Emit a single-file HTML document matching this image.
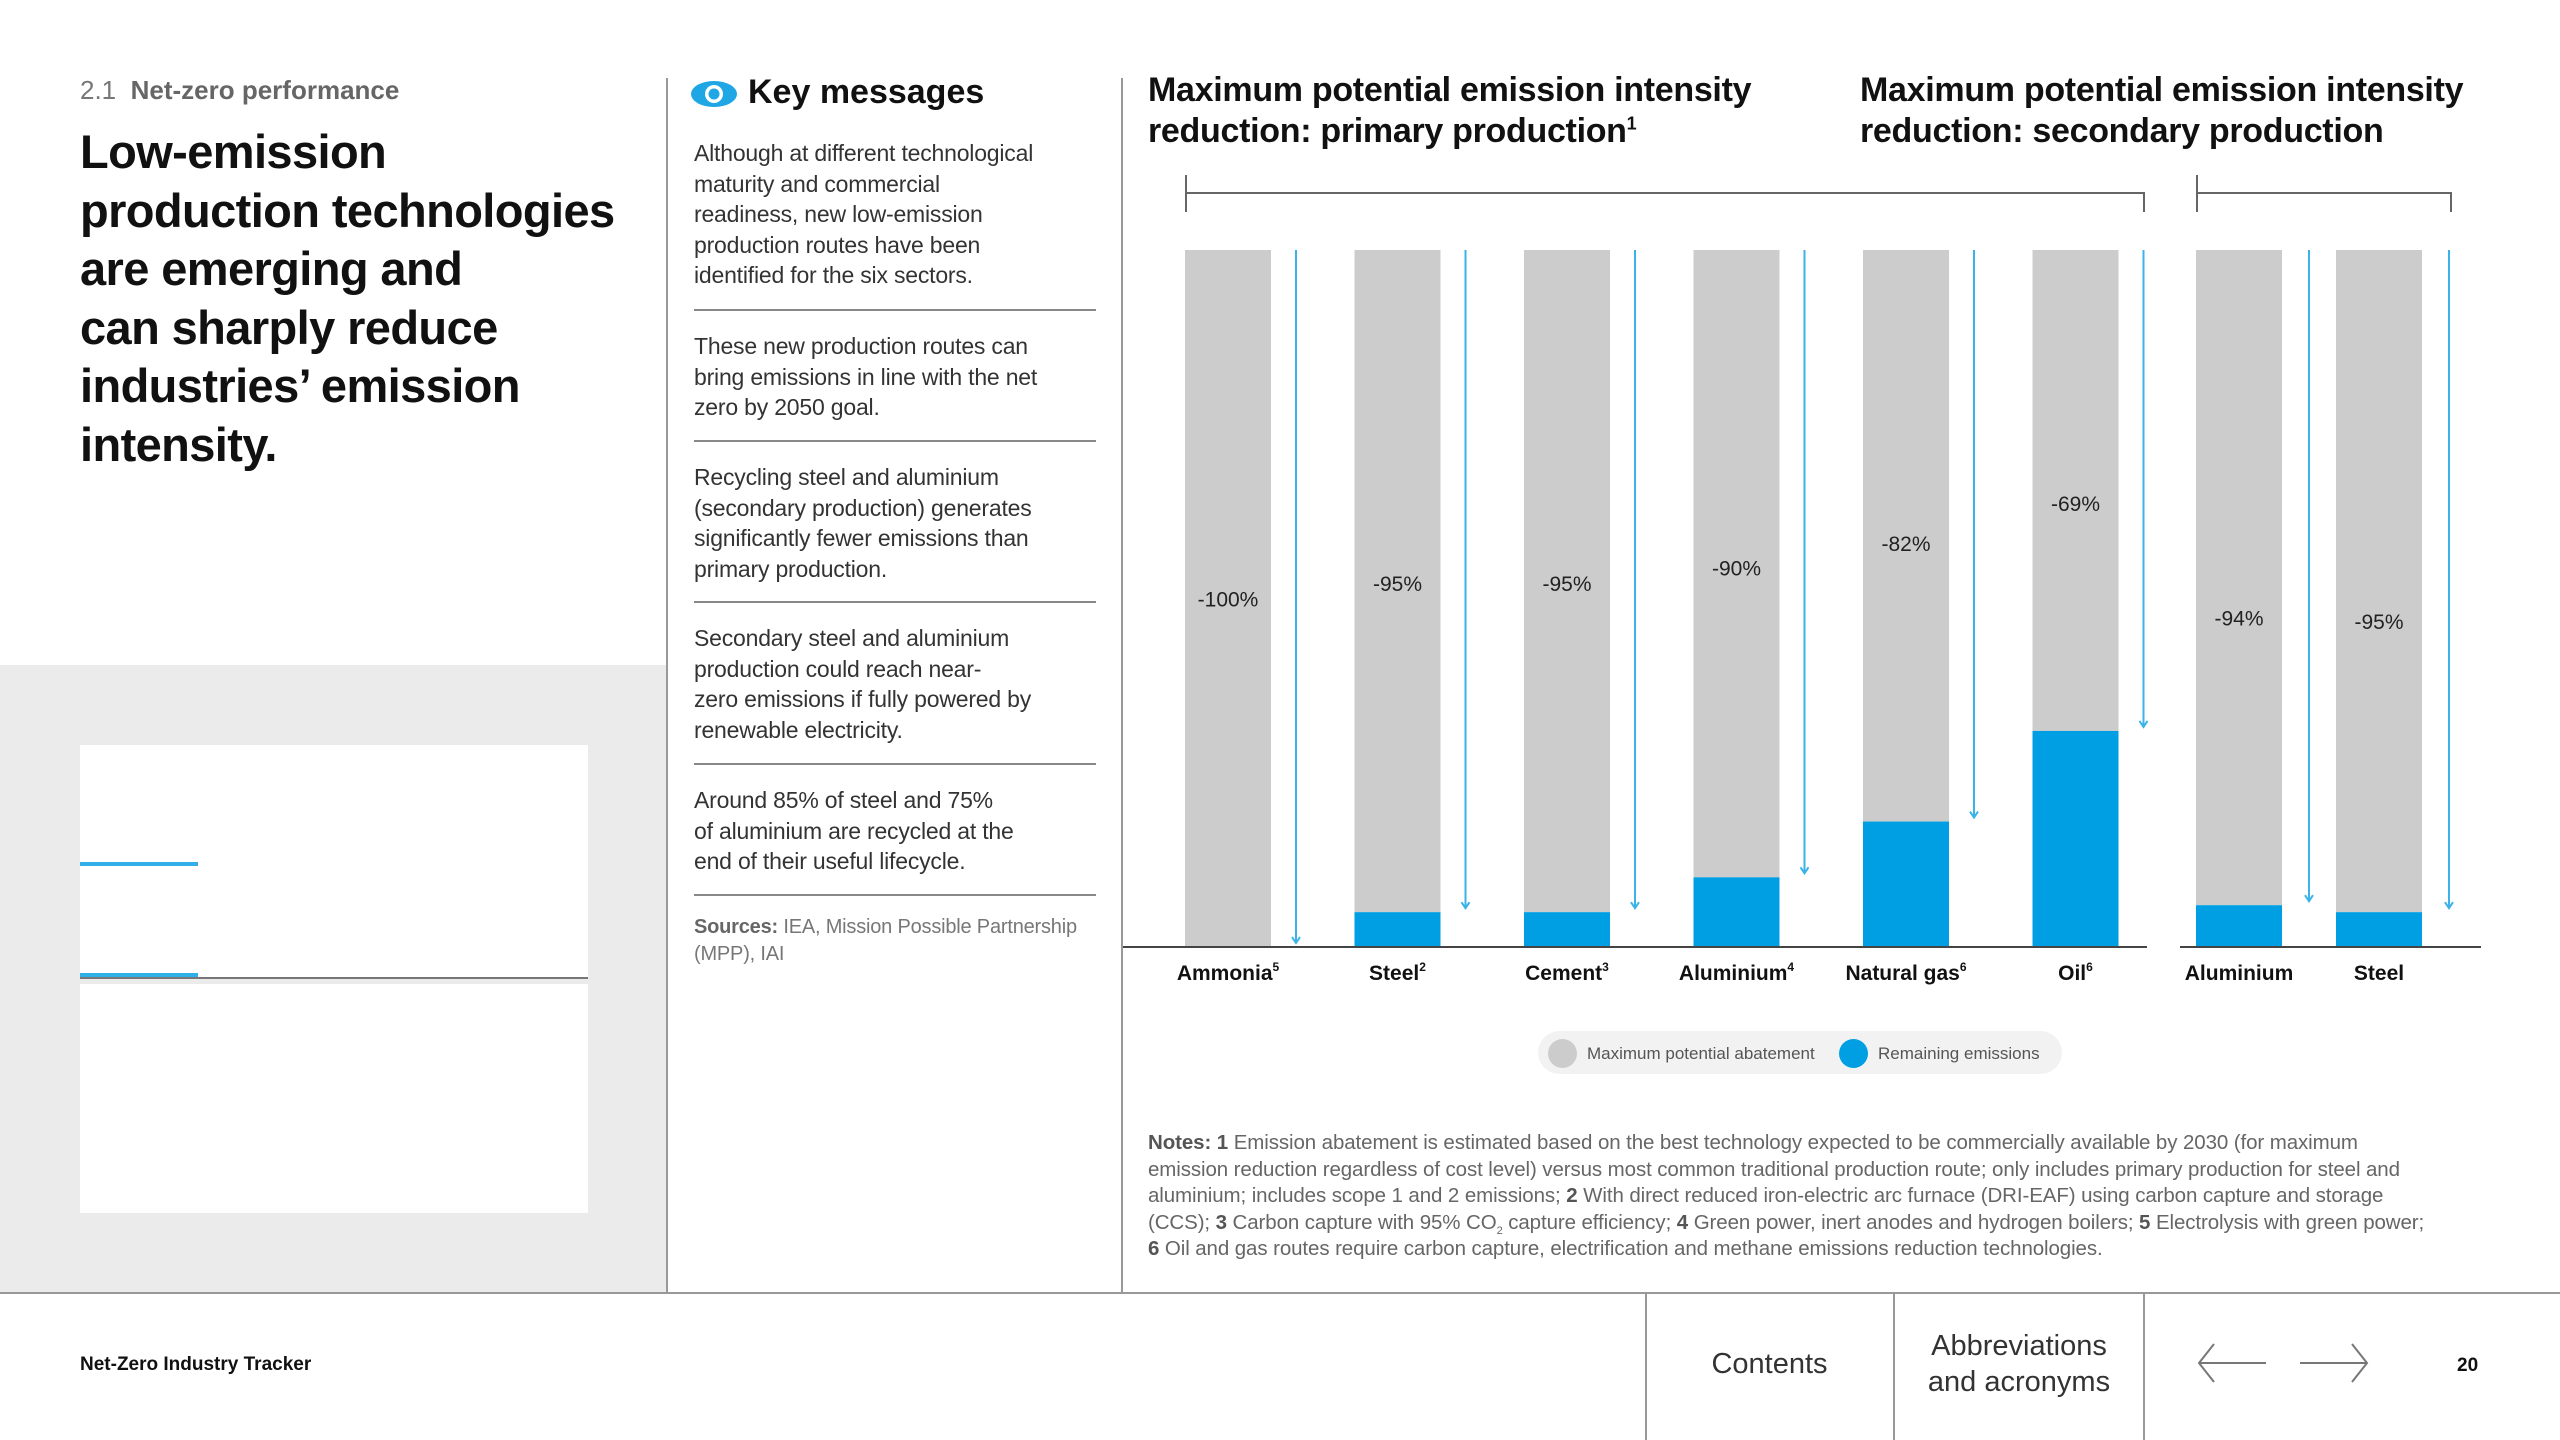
<!DOCTYPE html>
<html><head><meta charset="utf-8"><style>
*{margin:0;padding:0;box-sizing:border-box}
body{width:2560px;height:1440px;position:relative;background:#fff;font-family:"Liberation Sans",Arial,sans-serif;color:#111;overflow:hidden}
.a{position:absolute;white-space:nowrap}
.p{position:absolute;left:694px;font-size:23px;line-height:30.5px;color:#333;letter-spacing:-0.2px}
.hr{position:absolute;left:694px;width:402px;height:2px;background:#888}
.note{position:absolute;left:1148px;font-size:20.5px;line-height:26.5px;color:#666;white-space:nowrap;letter-spacing:-0.1px}
.note b{color:#555}
sup,sub{line-height:0}
</style></head><body>
<div class="a" style="left:80px;top:75px;font-size:26px;color:#777">2.1&nbsp; <b style="color:#666">Net-zero performance</b></div>
<div class="a" style="left:80px;top:123px;font-size:47px;line-height:58.6px;font-weight:bold;color:#111;letter-spacing:-0.6px">Low-emission<br>production technologies<br>are emerging and<br>can sharply reduce<br>industries’ emission<br>intensity.</div>

<div style="position:absolute;left:0;top:665px;width:666px;height:628px;background:#ebebeb"></div>
<div style="position:absolute;left:80px;top:745px;width:508px;height:233px;background:#fff"></div>
<div style="position:absolute;left:80px;top:984px;width:508px;height:229px;background:#fff"></div>
<div style="position:absolute;left:80px;top:977px;width:508px;height:2px;background:#777"></div>
<div style="position:absolute;left:80px;top:862px;width:118px;height:4px;background:#2fb0e8"></div>
<div style="position:absolute;left:80px;top:973px;width:118px;height:4px;background:#2fb0e8"></div>

<div style="position:absolute;left:666px;top:78px;width:2px;height:1215px;background:#999"></div>
<div style="position:absolute;left:1121px;top:78px;width:2px;height:1215px;background:#999"></div>

<svg class="a" style="left:690px;top:78px" width="48" height="32" viewBox="0 0 48 32"><ellipse cx="24" cy="16" rx="23" ry="13" fill="#1ea7e4"/><circle cx="24" cy="16" r="9" fill="#fff"/><circle cx="24" cy="16" r="5.5" fill="#1ea7e4"/></svg>
<div class="a" style="left:748px;top:73px;font-size:34px;font-weight:bold;color:#111">Key messages</div>

<div class="p" style="top:138px">Although at different technological<br>maturity and commercial<br>readiness, new low-emission<br>production routes have been<br>identified for the six sectors.</div>
<div class="hr" style="top:309px"></div>
<div class="p" style="top:331px">These new production routes can<br>bring emissions in line with the net<br>zero by 2050 goal.</div>
<div class="hr" style="top:440px"></div>
<div class="p" style="top:462px">Recycling steel and aluminium<br>(secondary production) generates<br>significantly fewer emissions than<br>primary production.</div>
<div class="hr" style="top:601px"></div>
<div class="p" style="top:623px">Secondary steel and aluminium<br>production could reach near-<br>zero emissions if fully powered by<br>renewable electricity.</div>
<div class="hr" style="top:763px"></div>
<div class="p" style="top:785px">Around 85% of steel and 75%<br>of aluminium are recycled at the<br>end of their useful lifecycle.</div>
<div class="hr" style="top:894px"></div>
<div class="p" style="top:914px;font-size:20px;line-height:27px;color:#777"><b style="color:#666">Sources:</b> IEA, Mission Possible Partnership<br>(MPP), IAI</div>

<div class="a" style="left:1148px;top:70px;font-size:34px;line-height:41px;font-weight:bold;color:#111;letter-spacing:-0.3px">Maximum potential emission intensity<br>reduction: primary production<sup style="font-size:18px">1</sup></div>
<div class="a" style="left:1860px;top:70px;font-size:34px;line-height:41px;font-weight:bold;color:#111;letter-spacing:-0.3px">Maximum potential emission intensity<br>reduction: secondary production</div>

<svg id="chart" class="a" style="left:0;top:0" width="2560" height="1440"></svg>

<div style="position:absolute;left:1538px;top:1031px;width:524px;height:43px;border-radius:22px;background:#f2f2f2"></div>
<div class="a" style="left:1548px;top:1038px;font-size:17px;color:#555;line-height:29px"><span style="display:inline-block;width:29px;height:29px;border-radius:50%;background:#ccc;vertical-align:middle;margin-right:10px"></span><span style="vertical-align:middle">Maximum potential abatement</span></div>
<div class="a" style="left:1839px;top:1038px;font-size:17px;color:#555;line-height:29px"><span style="display:inline-block;width:29px;height:29px;border-radius:50%;background:#009fe3;vertical-align:middle;margin-right:10px"></span><span style="vertical-align:middle">Remaining emissions</span></div>

<div class="note" style="top:1130px"><b>Notes: 1</b> Emission abatement is estimated based on the best technology expected to be commercially available by 2030 (for maximum<br>emission reduction regardless of cost level) versus most common traditional production route; only includes primary production for steel and<br>aluminium; includes scope 1 and 2 emissions; <b>2</b> With direct reduced iron-electric arc furnace (DRI-EAF) using carbon capture and storage<br>(CCS); <b>3</b> Carbon capture with 95% CO<sub style="font-size:11px">2</sub> capture efficiency; <b>4</b> Green power, inert anodes and hydrogen boilers; <b>5</b> Electrolysis with green power;<br><b>6</b> Oil and gas routes require carbon capture, electrification and methane emissions reduction technologies.</div>

<div style="position:absolute;left:0;top:1292px;width:2560px;height:2px;background:#999"></div>
<div class="a" style="left:80px;top:1354px;font-size:19px;font-weight:bold">Net-Zero Industry Tracker</div>
<div style="position:absolute;left:1645px;top:1293px;width:2px;height:147px;background:#999"></div>
<div style="position:absolute;left:1893px;top:1293px;width:2px;height:147px;background:#999"></div>
<div style="position:absolute;left:2143px;top:1293px;width:2px;height:147px;background:#999"></div>
<div class="a" style="left:1646px;width:247px;text-align:center;top:1348px;font-size:29px;color:#333">Contents</div>
<div class="a" style="left:1895px;width:248px;text-align:center;top:1328px;font-size:29px;line-height:36px;color:#333">Abbreviations<br>and acronyms</div>
<svg class="a" style="left:2196px;top:1342px" width="72" height="42"><path d="M70 21H4M18 2L3 21L18 40" fill="none" stroke="#777" stroke-width="2"/></svg>
<svg class="a" style="left:2298px;top:1342px" width="72" height="42"><path d="M2 21H68M54 2L69 21L54 40" fill="none" stroke="#777" stroke-width="2"/></svg>
<div class="a" style="left:2457px;top:1355px;font-size:19px;font-weight:bold">20</div>

<script>
const categories=["Ammonia","Steel","Cement","Aluminium","Natural gas","Oil","Aluminium","Steel"];
const superscripts=["5","2","3","4","6","6","",""];
const reduction=[-100,-95,-95,-90,-82,-69,-94,-95];
const remaining=[0,5,5,10,18,31,6,5];
const groups=["primary","primary","primary","primary","primary","primary","secondary","secondary"];

const NS="http://www.w3.org/2000/svg";
const svg=document.getElementById('chart');
const yTop=250,yBase=947;
function y(v){return yBase-(v/100)*(yBase-yTop);}
function barX(i){return i<6?1185+i*169.5:2196+(i-6)*140;}
const bw=86;
function mk(tag,attrs){const e=document.createElementNS(NS,tag);for(const k in attrs)e.setAttribute(k,attrs[k]);svg.appendChild(e);return e;}

let br=mk('path',{d:'M1186 175V212M1186 193H2144V212',fill:'none',stroke:'#666','stroke-width':2});


let br2=mk('path',{d:'M2197 175V212M2197 193H2451V212',fill:'none',stroke:'#666','stroke-width':2});



categories.forEach((c,i)=>{
  const x=barX(i);
  const total=100;
  const g=mk('rect',{x:x,y:y(total),width:bw,height:y(remaining[i])-y(total),fill:'#cccccc'});
  
  
  if(remaining[i]>0){
    const b=mk('rect',{x:x,y:y(remaining[i]),width:bw,height:yBase-y(remaining[i]),fill:'#009fe3'});
    
    
  }
  const ax=i<6?x+bw+25:x+bw+27;
  const ay=y(remaining[i])-4;
  const ln=mk('path',{d:`M${ax} ${yTop}V${ay}M${ax-4} ${ay-6}L${ax} ${ay}L${ax+4} ${ay-6}`,fill:'none',stroke:'#3bb3e8','stroke-width':2});
  
  
  const midY=(y(100)+y(remaining[i]))/2+(groups[i]==='secondary'?48:8+remaining[i]*0.4);
  const t=mk('text',{x:x+bw/2,y:midY,'text-anchor':'middle','font-size':21,fill:'#222','font-family':'Liberation Sans, sans-serif'});
  t.textContent=reduction[i]+'%';
  
  
  const cl=mk('text',{x:x+bw/2,y:980,'text-anchor':'middle','font-size':21,'font-weight':'bold',fill:'#111','font-family':'Liberation Sans, sans-serif'});
  cl.textContent=c;
  if(superscripts[i]){const s=document.createElementNS(NS,'tspan');s.setAttribute('font-size',12);s.setAttribute('dy',-9);s.textContent=superscripts[i];cl.appendChild(s);}
  
  
});
let b1=mk('line',{x1:1123,x2:2147,y1:yBase,y2:yBase,stroke:'#444','stroke-width':2});


let b2=mk('line',{x1:2180,x2:2481,y1:yBase,y2:yBase,stroke:'#444','stroke-width':2});


</script>
</body></html>
